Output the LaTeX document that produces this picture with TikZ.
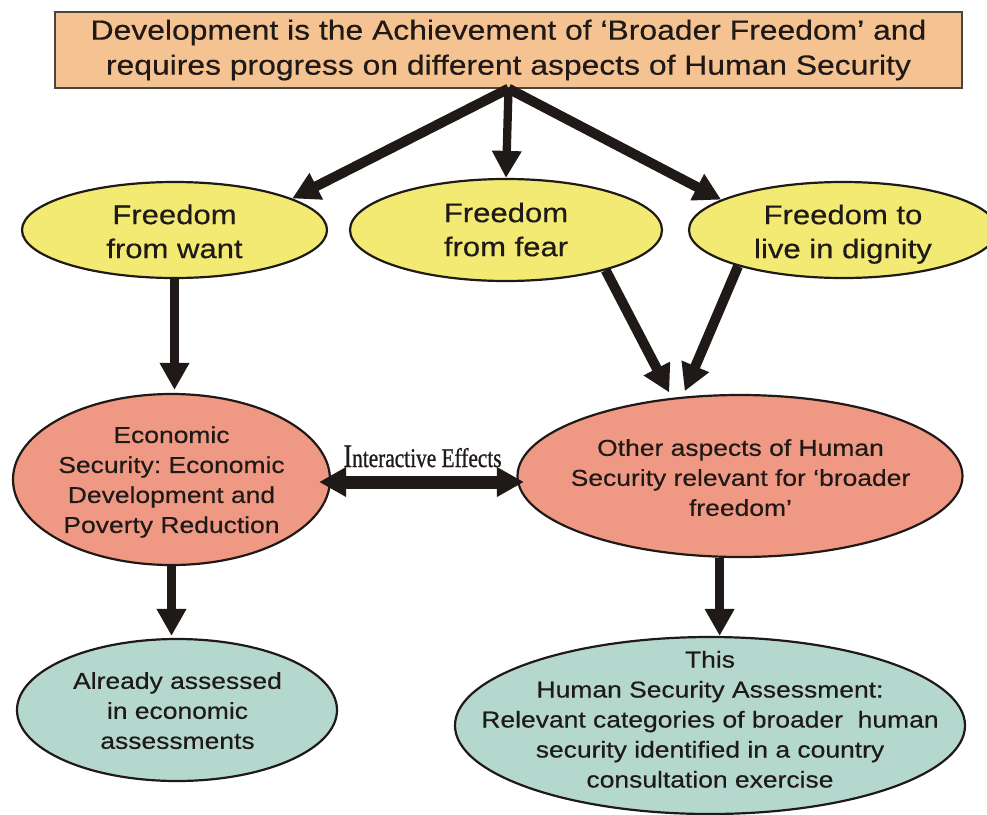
\documentclass[tikz,border=0pt]{standalone}
\usepackage{fontspec}
\setmainfont{Liberation Sans}[FakeStretch=1.15,FakeBold=0.4]
\newfontfamily\iefont{Liberation Serif}[FakeStretch=0.79,FakeBold=0.8]
\usetikzlibrary{arrows.meta,shapes.geometric,calc}
\definecolor{ink}{HTML}{1F1A17}
\definecolor{boxline}{HTML}{4A4440}
\definecolor{topfill}{HTML}{F5C391}
\definecolor{yelfill}{HTML}{F2EA73}
\definecolor{salfill}{HTML}{EF9984}
\definecolor{tealfill}{HTML}{B5D8CE}
\frenchspacing
\begin{document}
\begin{tikzpicture}[x=1pt,y=-1pt,
  oval/.style={ellipse, draw=ink, line width=2.2pt, inner sep=0pt},
  ytxt/.style={align=center, inner sep=0pt, text=ink, font=\fontsize{27}{34}\selectfont},
  stxt/.style={align=center, inner sep=0pt, text=ink, font=\fontsize{23}{30}\selectfont},
  arrbase/.style={draw=ink, -{Triangle[length=27pt,width=28pt]}},
  arrD/.style={arrbase, line width=10pt},
  arrS/.style={arrbase, line width=8.3pt},
  arrV/.style={arrbase, line width=9.5pt},
  dbl/.style={draw=ink, line width=13pt, {Triangle[length=27pt,width=28pt]}-{Triangle[length=27pt,width=28pt]}}
]
\useasboundingbox (0,0) rectangle (987,814);
\fill[white] (0,0) rectangle (987,814);

% top box
\node[rectangle, draw=boxline, line width=1.3pt, fill=topfill, minimum width=907pt, minimum height=76pt,
      inner sep=0pt, align=center, text=ink, font=\fontsize{27.7}{35}\selectfont] (top) at (508.5,50)
  {Development is the Achievement of ‘Broader Freedom’ and\\requires progress on different aspects of Human Security};

% freedoms
\node[oval, fill=yelfill, minimum width=305pt, minimum height=96pt] (want) at (174.5,230) {};
\node[ytxt] (wantT) at (174.5,231.4) {Freedom\\from want};
\node[oval, fill=yelfill, minimum width=312pt, minimum height=102pt] (fear) at (506,230) {};
\node[ytxt] (fearT) at (506,229.5) {Freedom\\from fear};
\node[oval, fill=yelfill, minimum width=308pt, minimum height=96pt] (dig) at (843,230) {};
\node[ytxt] (digT) at (843,234.2) {Freedom to\\live in dignity};

% security
\node[oval, fill=salfill, minimum width=317pt, minimum height=171pt] (econ) at (171.5,479.5) {};
\node[stxt] (econT) at (171.5,482) {Economic\\Security: Economic\\Development and\\Poverty Reduction};
\node[oval, fill=salfill, minimum width=445pt, minimum height=162pt] (other) at (740,476) {};
\node[stxt] (otherT) at (740.5,477.6) {Other aspects of Human\\Security relevant for ‘broader\\freedom’};

% assessments
\node[oval, fill=tealfill, minimum width=320pt, minimum height=142pt] (already) at (177,710) {};
\node[stxt] (alreadyT) at (177.5,710.6) {Already assessed\\in economic\\assessments};
\node[oval, fill=tealfill, minimum width=510pt, minimum height=177pt] (hsa) at (710,725.5) {};
\node[stxt] (hsaT) at (710,719.3) {This\\Human Security Assessment:\\Relevant categories of broader~ human\\security identified in a country\\consultation exercise};

% connectors
\draw[arrD] (top.south) -- (want.15.5);
\draw[arrS] (top.south) -- (fear.north);
\draw[arrD] (top.south) -- (dig.166);
\draw[arrV, shorten >=3pt] (want.south) -- (want.south |- econ.north);
\draw[arrD, shorten >=6pt] (fear.-22) -- (other.131.7);
\draw[arrD, shorten >=6pt] (dig.-161.6) -- (other.126.9);
\draw[arrV, shorten >=2pt] (econ.south) -- (econ.south |- already.north);
\draw[arrV] (other.-104) -- (other.-104 |- hsa.north);
\draw[dbl, shorten <=-12pt, shorten >=-7.5pt] ([yshift=-2.5pt]econ.east) -- ([yshift=-2.5pt]econ.east -| other.west);
\node[anchor=base, inner sep=0pt, text=ink, font=\iefont] (ie) at (422.5,467)
  {{\fontsize{33}{33}\selectfont I}{\fontsize{27}{27}\selectfont nteractive Effects}};
\end{tikzpicture}
\end{document}
